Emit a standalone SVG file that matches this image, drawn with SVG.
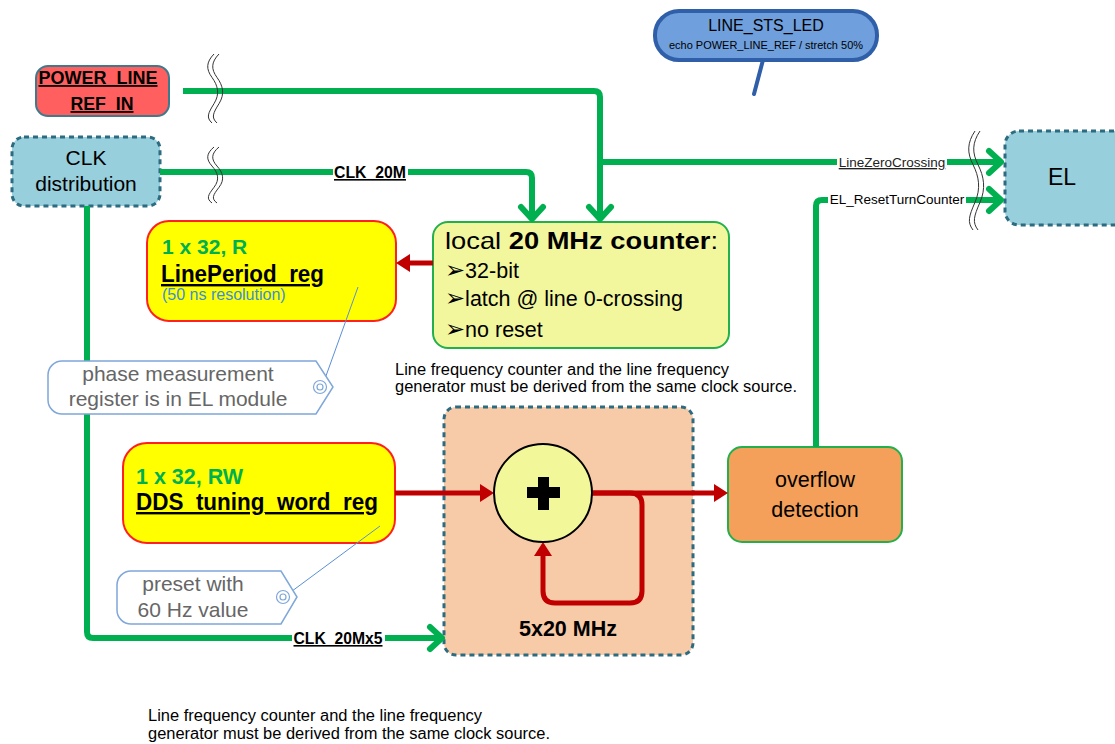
<svg xmlns="http://www.w3.org/2000/svg" width="1115" height="744" viewBox="0 0 1115 744">
  <style>
    text { font-family: "Liberation Sans", Arial, sans-serif; fill: #000; }
    .b { font-weight: bold; }
    .u { text-decoration: underline; }
    .green { stroke: #00b050; stroke-width: 6; fill: none; stroke-linejoin: round; }
    .red { stroke: #c00000; stroke-width: 5; fill: none; stroke-linejoin: round; }
    .dash { stroke: #2d6b80; stroke-width: 3; stroke-dasharray: 5 4; }
    .tag { fill: #fff; stroke: #7fa7d9; stroke-width: 1.5; }
    .tail { stroke: #5b8fd6; stroke-width: 1; fill: none; }
    .brk { fill: none; stroke: #333; stroke-width: 1; }
    .lbl-bg { fill: #fff; }
    .gray { fill: #666; }
    .bullet { font-family: "DejaVu Sans", sans-serif; font-size: 24px; }
  </style>
  <defs>
    <!-- open chevron head for the green signal lines -->
    <marker id="chev" markerUnits="userSpaceOnUse" orient="auto" overflow="visible" markerWidth="1" markerHeight="1" refX="0" refY="0">
      <path d="M-12,-11 L0,0 L-12,11" fill="none" stroke="#00b050" stroke-width="6" stroke-linecap="round" stroke-linejoin="round"/>
    </marker>
    <!-- filled head for the red data paths -->
    <marker id="tri" markerUnits="userSpaceOnUse" orient="auto" overflow="visible" markerWidth="1" markerHeight="1" refX="0" refY="0">
      <path d="M-3,-9 L11,0 L-3,9 Z" fill="#c00000"/>
    </marker>
    <!-- double wavy "break" mark, unit height 100 -->
    <g id="brk">
      <path class="brk" d="M6,0 C-2,12 -2,22 4,34 S12,58 6,72 S-2,92 4,100" vector-effect="non-scaling-stroke"/>
      <path class="brk" d="M11,0 C3,12 3,22 9,34 S17,58 11,72 S3,92 9,100" vector-effect="non-scaling-stroke"/>
    </g>
  </defs>

  <rect width="1115" height="744" fill="#fff"/>

  <!-- status LED callout -->
  <g id="line-sts-led">
    <line x1="763" y1="60" x2="754" y2="94" stroke="#2f5fa8" stroke-width="4" stroke-linecap="round"/>
    <rect x="655" y="11" width="222" height="49" rx="24" fill="#6f9fdc" stroke="#2f5fa8" stroke-width="4"/>
    <text x="766" y="31" font-size="16" text-anchor="middle">LINE_STS_LED</text>
    <text x="766" y="49" font-size="10.5" text-anchor="middle" textLength="194" lengthAdjust="spacingAndGlyphs">echo POWER_LINE_REF / stretch 50%</text>
  </g>

  <g id="power-line-ref-in">
    <rect x="36" y="66" width="133" height="50" rx="12" fill="#ff5f5f" stroke="#3e7a8c" stroke-width="2"/>
    <text x="98" y="84" font-size="18" text-anchor="middle" class="b u" textLength="119" lengthAdjust="spacingAndGlyphs">POWER_LINE</text>
    <text x="102" y="110" font-size="18" text-anchor="middle" class="b u" textLength="63" lengthAdjust="spacingAndGlyphs">REF_IN</text>
  </g>

  <g id="clk-distribution">
    <rect x="12" y="137" width="148" height="69" rx="12" fill="#97cfdd" class="dash"/>
    <text x="86" y="165" font-size="21" text-anchor="middle">CLK</text>
    <text x="86" y="191" font-size="21" text-anchor="middle">distribution</text>
  </g>

  <g id="el">
    <rect x="1005" y="131" width="125" height="94" rx="14" fill="#97cfdd" class="dash"/>
    <text x="1062" y="185" font-size="23" text-anchor="middle">EL</text>
  </g>

  <g id="lineperiod-reg">
    <rect x="147" y="221" width="249" height="100" rx="22" fill="#ffff00" stroke="#ff2020" stroke-width="2"/>
    <text x="162" y="254" font-size="21" class="b" style="fill:#00b050">1 x 32, R</text>
    <text x="161" y="282" font-size="24" class="b u" textLength="163" lengthAdjust="spacingAndGlyphs">LinePeriod_reg</text>
    <text x="162" y="300" font-size="16" style="fill:#3a8fd8">(50 ns resolution)</text>
  </g>

  <g id="local-counter">
    <rect x="433" y="222" width="296" height="126" rx="15" fill="#f2f79e" stroke="#21b04b" stroke-width="2"/>
    <text x="445" y="249" font-size="24" textLength="273" lengthAdjust="spacingAndGlyphs">local <tspan class="b">20 MHz counter</tspan>:</text>
    <text x="445" y="278" font-size="21.5"><tspan class="bullet">➢</tspan>32-bit</text>
    <text x="445" y="306" font-size="21.5"><tspan class="bullet">➢</tspan>latch @ line 0-crossing</text>
    <text x="445" y="337" font-size="21.5"><tspan class="bullet">➢</tspan>no reset</text>
  </g>

  <g id="note-clock-source-1">
    <text x="395" y="375" font-size="16" textLength="334" lengthAdjust="spacingAndGlyphs">Line frequency counter and the line frequency</text>
    <text x="395" y="392" font-size="16" textLength="402" lengthAdjust="spacingAndGlyphs">generator must be derived from the same clock source.</text>
  </g>

  <g id="dds-tuning-word-reg">
    <rect x="123" y="443" width="272" height="100" rx="24" fill="#ffff00" stroke="#ff2020" stroke-width="2"/>
    <text x="136" y="484" font-size="21.5" class="b" style="fill:#00b050">1 x 32, RW</text>
    <text x="136" y="510" font-size="24" class="b u" textLength="242" lengthAdjust="spacingAndGlyphs">DDS_tuning_word_reg</text>
  </g>

  <g id="accumulator-block">
    <rect x="444" y="407" width="249" height="248" rx="12" fill="#f8cba8" class="dash"/>
    <text x="568" y="636" font-size="21.5" class="b" text-anchor="middle">5x20 MHz</text>
  </g>

  <g id="overflow-detection">
    <rect x="728" y="447" width="174" height="95" rx="14" fill="#f4a05a" stroke="#21b04b" stroke-width="2"/>
    <text x="815" y="487" font-size="21.5" text-anchor="middle">overflow</text>
    <text x="815" y="517" font-size="21.5" text-anchor="middle">detection</text>
  </g>

  <!-- connectors -->
  <g id="connectors">
    <!-- power line reference: to counter and on to EL -->
    <path class="green" d="M183,91 H594 Q600,91 600,97 V219" marker-end="url(#chev)"/>
    <path class="green" d="M600,162 H1001" marker-end="url(#chev)"/>
    <!-- 20 MHz clock to counter -->
    <path class="green" d="M160,172 H526 Q532,172 532,178 V219" marker-end="url(#chev)"/>
    <!-- 5x20 MHz clock to accumulator -->
    <path class="green" d="M87,206 V632 Q87,638 93,638 H442" marker-end="url(#chev)"/>
    <!-- overflow to EL reset -->
    <path class="green" d="M816,447 V206 Q816,200 822,200 H1001" marker-end="url(#chev)"/>

    <!-- red data paths -->
    <path class="red" d="M433,263 H407" marker-end="url(#tri)"/>
    <path class="red" d="M395,493 H483" marker-end="url(#tri)"/>
    <path class="red" d="M592,493 H717" marker-end="url(#tri)"/>
    <path class="red" d="M592,493 H630 Q642,493 642,505 V591 Q642,603 630,603 H555 Q543,603 543,591 V553" stroke-width="6" marker-end="url(#tri)"/>

    <!-- line breaks -->
    <use href="#brk" transform="translate(208,54) scale(1,0.69)"/>
    <use href="#brk" transform="translate(208,147) scale(1,0.56)"/>
    <use href="#brk" transform="translate(969,131) scale(1,0.99)"/>

    <!-- signal labels -->
    <rect class="lbl-bg" x="333" y="162" width="75" height="19"/>
    <text x="370" y="178" font-size="16" class="b u" text-anchor="middle" textLength="72" lengthAdjust="spacingAndGlyphs">CLK_20M</text>
    <rect class="lbl-bg" x="292" y="628" width="93" height="19"/>
    <text x="338" y="644" font-size="16" class="b u" text-anchor="middle" textLength="89" lengthAdjust="spacingAndGlyphs">CLK_20Mx5</text>
    <rect class="lbl-bg" x="837" y="154" width="110" height="17"/>
    <text x="892" y="167" font-size="13.5" class="u" text-anchor="middle" style="fill:#222">LineZeroCrossing</text>
    <rect class="lbl-bg" x="828" y="191" width="138" height="17"/>
    <text x="897" y="204" font-size="13.5" text-anchor="middle">EL_ResetTurnCounter</text>
  </g>

  <g id="phase-note">
    <line class="tail" x1="358" y1="287" x2="322" y2="387"/>
    <path class="tag" d="M62,361 H316 L333,387 L316,414 H62 A14,14 0 0 1 48,400 V375 A14,14 0 0 1 62,361 Z"/>
    <circle cx="320" cy="387" r="6.5" fill="none" stroke="#7fa7d9" stroke-width="1.2"/>
    <circle cx="320" cy="387" r="3" fill="none" stroke="#7fa7d9" stroke-width="1.2"/>
    <text x="178" y="381" font-size="21" text-anchor="middle" class="gray">phase measurement</text>
    <text x="178" y="406" font-size="21" text-anchor="middle" class="gray">register is in EL module</text>
  </g>

  <g id="preset-note">
    <line class="tail" x1="380" y1="526" x2="284" y2="597"/>
    <path class="tag" d="M131,571 H281 L297,597 L281,624 H131 A14,14 0 0 1 117,610 V585 A14,14 0 0 1 131,571 Z"/>
    <circle cx="283" cy="597" r="6.5" fill="none" stroke="#7fa7d9" stroke-width="1.2"/>
    <circle cx="283" cy="597" r="3" fill="none" stroke="#7fa7d9" stroke-width="1.2"/>
    <text x="193" y="591" font-size="21" text-anchor="middle" class="gray">preset with</text>
    <text x="193" y="617" font-size="21" text-anchor="middle" class="gray">60 Hz value</text>
  </g>

  <g id="adder">
    <circle cx="543" cy="493" r="49" fill="#f2f79a" stroke="#000" stroke-width="2"/>
    <rect x="527" y="487" width="33" height="11" fill="#000"/>
    <rect x="538" y="477" width="11" height="33" fill="#000"/>
  </g>

  <g id="note-clock-source-2">
    <text x="148" y="721" font-size="16" textLength="334" lengthAdjust="spacingAndGlyphs">Line frequency counter and the line frequency</text>
    <text x="148" y="739" font-size="16" textLength="402" lengthAdjust="spacingAndGlyphs">generator must be derived from the same clock source.</text>
  </g>
</svg>
